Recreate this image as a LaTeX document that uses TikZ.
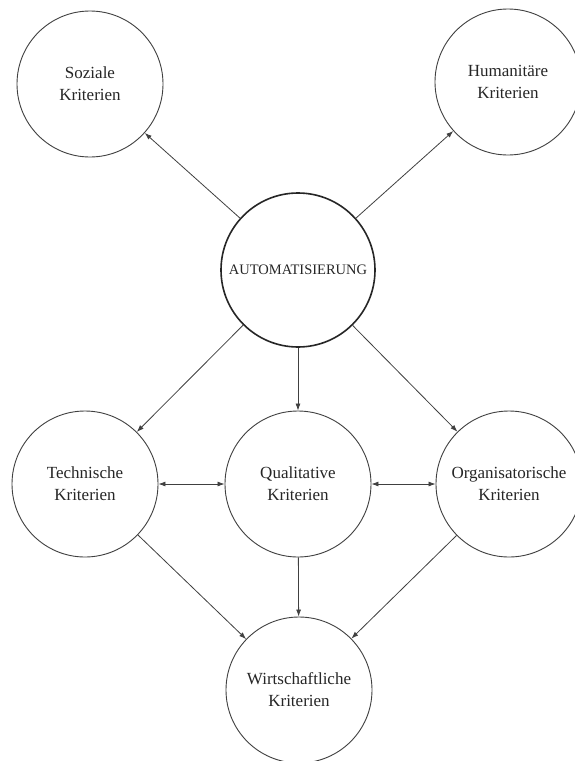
\documentclass[tikz,border=0pt]{standalone}
\usepackage{fontspec}
\setmainfont{Liberation Serif}
\usetikzlibrary{arrows.meta}
\begin{document}
\begin{tikzpicture}[x=1pt,y=-1pt,
  crit/.style={circle,draw=black!75,line width=0.9pt,minimum size=146pt,inner sep=0pt,align=center,
    font=\fontsize{17pt}{22pt}\selectfont,text=black!85},
  autobox/.style={circle,draw=black!85,line width=1.6pt,minimum size=154pt,inner sep=0pt,
    font=\fontsize{14.5pt}{18pt}\selectfont,text=black!85},
  conn/.style={draw=black!75,line width=0.8pt,-{Latex[length=7pt,width=5pt]}},
  biconn/.style={draw=black!75,line width=0.8pt,{Latex[length=7pt,width=5pt]}-{Latex[length=7pt,width=5pt]}}
]
\useasboundingbox (0,0) rectangle (574,761);
\fill[white] (0,0) rectangle (574,761);
\node[crit] (soz) at (90,84) {Soziale\\Kriterien};
\node[crit] (hum) at (508,82) {Humanitäre\\Kriterien};
\node[autobox] (auto) at (298,270) {AUTOMATISIERUNG};
\node[crit] (tec) at (85,484) {Technische\\Kriterien};
\node[crit] (qua) at (298,484) {Qualitative\\Kriterien};
\node[crit] (org) at (509,484) {Organisatorische\\Kriterien};
\node[crit] (wir) at (299,690) {Wirtschaftliche\\Kriterien};
\draw[conn] (auto) -- (soz);
\draw[conn] (auto) -- (hum);
\draw[conn] (auto) -- (tec);
\draw[conn] (auto) -- (qua);
\draw[conn] (auto) -- (org);
\draw[biconn] (tec) -- (qua);
\draw[biconn] (qua) -- (org);
\draw[conn] (tec) -- (wir);
\draw[conn] (qua) -- (wir);
\draw[conn] (org) -- (wir);
\end{tikzpicture}
\end{document}
